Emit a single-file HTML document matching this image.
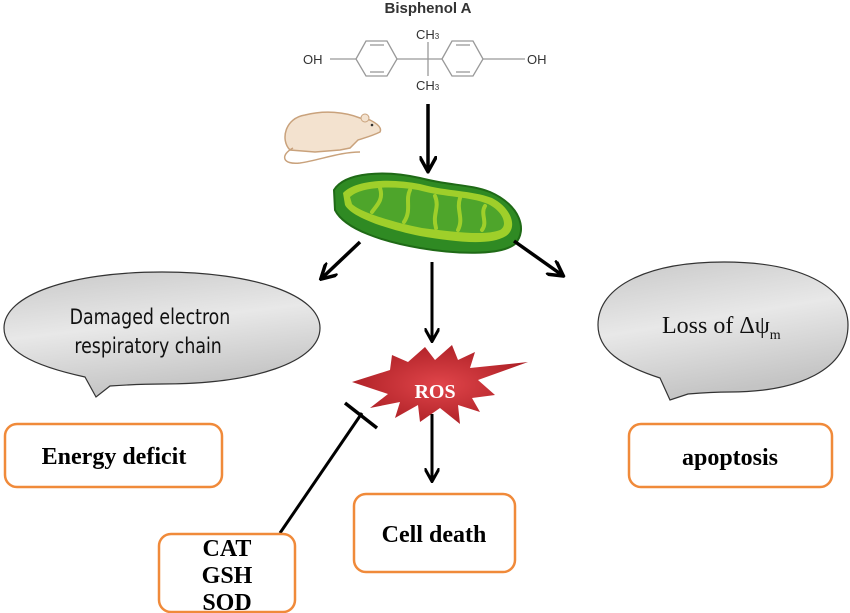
<!DOCTYPE html>
<html><head><meta charset="utf-8"><style>
html,body{margin:0;padding:0;background:#fff;}
svg{display:block;}
</style></head><body>
<svg width="850" height="613" viewBox="0 0 850 613" xmlns="http://www.w3.org/2000/svg">
<defs>
<linearGradient id="bub" x1="0" y1="0" x2="0.3" y2="1">
<stop offset="0" stop-color="#c8c8c8"/><stop offset="0.5" stop-color="#e8e8e8"/><stop offset="1" stop-color="#c4c4c4"/>
</linearGradient>
<radialGradient id="ros" cx="0.5" cy="0.5" r="0.6">
<stop offset="0" stop-color="#e0454a"/><stop offset="1" stop-color="#a81c22"/>
</radialGradient>
<marker id="ah" viewBox="0 0 10 10" refX="8" refY="5" markerWidth="5" markerHeight="5" orient="auto">
<path d="M0,0 L9,5 L0,10" fill="none" stroke="#000" stroke-width="2"/>
</marker>
</defs>

<!-- Bisphenol A -->
<text x="428" y="13" font-family="Liberation Sans, sans-serif" font-weight="bold" font-size="15" fill="#333" text-anchor="middle">Bisphenol A</text>
<g stroke="#999" stroke-width="1.3" fill="none">
<polygon points="356,59 366,41 387,41 397,59 387,76 366,76"/>
<polygon points="442,59 452,41 473,41 483,59 473,76 452,76"/>
<line x1="330" y1="59" x2="356" y2="59"/>
<line x1="483" y1="59" x2="525" y2="59"/>
<line x1="397" y1="59" x2="442" y2="59"/>
<line x1="428" y1="42" x2="428" y2="76"/>
<line x1="370" y1="45" x2="384" y2="45"/><line x1="370" y1="72" x2="384" y2="72"/>
<line x1="456" y1="45" x2="470" y2="45"/><line x1="456" y1="72" x2="470" y2="72"/>
</g>
<g font-family="Liberation Sans, sans-serif" font-size="13" fill="#333">
<text x="303" y="64">OH</text><text x="527" y="64">OH</text>
<text x="416" y="39">CH<tspan font-size="8">3</tspan></text>
<text x="416" y="90">CH<tspan font-size="8">3</tspan></text>
</g>

<!-- mouse -->
<g>
<path d="M290,150 C280,140 285,118 305,115 C325,110 345,112 360,118 L370,120 C378,124 382,128 380,132 C372,136 364,138 358,140 L350,148 L340,150 L315,152 Z" fill="#f3e2cf" stroke="#c9a27c" stroke-width="1.5"/>
<path d="M293,148 C280,155 282,165 300,163 C320,160 340,152 360,152" fill="none" stroke="#c9a27c" stroke-width="1.5"/>
<circle cx="365" cy="118" r="4" fill="#f3e2cf" stroke="#c9a27c"/>
<circle cx="372" cy="125" r="1.3" fill="#333"/>
</g>

<!-- BPA arrow -->
<line x1="428" y1="104" x2="428" y2="170" stroke="#000" stroke-width="3.5" marker-end="url(#ah)"/>

<!-- mitochondrion -->
<path d="M334,190 C345,172 385,170 420,178 C450,186 470,184 490,192 C520,205 528,230 515,244 C500,256 455,254 420,248 C385,242 345,230 335,210 Z" fill="#2f8a23" stroke="#1f6a16" stroke-width="2"/>
<path d="M343,193 C355,180 390,178 420,184 C450,192 470,190 492,198 C512,208 518,228 506,236 C490,246 455,242 420,236 C390,230 352,218 345,205 Z" fill="#9fcf2a"/>
<path d="M350,197 C362,186 392,186 418,190 C448,198 468,196 488,204 C504,212 508,226 500,230 C485,236 455,232 422,228 C392,222 360,212 352,204 Z" fill="#4ea52b"/>
<g stroke="#9fcf2a" stroke-width="4" fill="none" stroke-linecap="round">
<path d="M380,188 C384,200 376,206 372,212"/>
<path d="M410,190 C405,200 412,210 404,222"/>
<path d="M435,196 C440,208 432,214 436,228"/>
<path d="M460,198 C456,210 464,218 458,230"/>
<path d="M485,206 C480,214 488,222 482,230"/>
</g>

<!-- arrows from mito -->
<line x1="360" y1="242" x2="322" y2="278" stroke="#000" stroke-width="3.5" marker-end="url(#ah)"/>
<line x1="432" y1="262" x2="432" y2="340" stroke="#000" stroke-width="3" marker-end="url(#ah)"/>
<line x1="514" y1="241" x2="562" y2="275" stroke="#000" stroke-width="3.5" marker-end="url(#ah)"/>

<!-- left bubble -->
<path d="M85,377 C30,365 4,350 4,328 C4,295 70,272 162,272 C254,272 320,295 320,328 C320,362 254,384 162,384 C140,384 125,385 110,386 L96,397 Z" fill="url(#bub)" stroke="#333" stroke-width="1.2"/>
<text font-family="DejaVu Sans Condensed, DejaVu Sans, sans-serif" font-size="21" fill="#111" text-anchor="middle" transform="scale(0.92,1)">
<tspan x="163" y="324">Damaged electron</tspan><tspan x="161" y="353">respiratory chain</tspan></text>

<!-- right bubble -->
<path d="M660,378 C620,365 598,350 598,325 C598,285 650,262 724,262 C798,262 848,285 848,325 C848,370 798,392 730,392 C712,392 700,393 688,394 L670,400 Z" fill="url(#bub)" stroke="#333" stroke-width="1.2"/>
<text x="662" y="333" font-family="Liberation Serif, serif" font-size="24" fill="#111">Loss of Δψ<tspan font-size="14" dy="6">m</tspan></text>

<!-- ROS star -->
<polygon points="352,382 390,370 392,355 408,362 425,347 435,360 452,345 458,360 475,352 470,368 528,362 478,380 495,395 472,398 480,412 458,405 460,424 440,408 420,422 418,405 395,418 400,402 370,408 388,394" fill="url(#ros)"/>
<text x="435" y="398" font-family="Liberation Serif, serif" font-weight="bold" font-size="20" fill="#fff" text-anchor="middle">ROS</text>

<!-- ROS -> cell death -->
<line x1="432" y1="414" x2="432" y2="480" stroke="#000" stroke-width="3" marker-end="url(#ah)"/>

<!-- inhibition -->
<line x1="280" y1="533" x2="362" y2="413" stroke="#000" stroke-width="3"/>
<line x1="345" y1="403" x2="377" y2="428" stroke="#000" stroke-width="3.5"/>

<!-- boxes -->
<g fill="#fff" stroke="#f08a3a" stroke-width="2.5">
<rect x="5" y="424" width="217" height="63" rx="12"/>
<rect x="629" y="424" width="203" height="63" rx="12"/>
<rect x="354" y="494" width="161" height="78" rx="12"/>
<rect x="159" y="534" width="136" height="78" rx="12"/>
</g>
<g font-family="Liberation Serif, serif" font-weight="bold" font-size="24" fill="#000" text-anchor="middle">
<text x="114" y="464">Energy deficit</text>
<text x="730" y="465">apoptosis</text>
<text x="434" y="542">Cell death</text>
<text x="227" y="556">CAT</text>
<text x="227" y="583">GSH</text>
<text x="227" y="610">SOD</text>
</g>
</svg>
</body></html>
